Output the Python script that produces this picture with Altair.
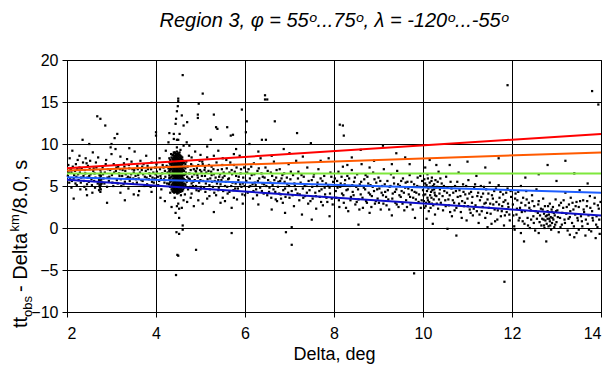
import altair as alt
import pandas as pd

# ---------------- data ----------------
pts_a = [(2.02,6.2),(2.05,5.4),(2.08,7.0),(2.1,6.6),(2.12,9.2),(2.15,5.9),(2.18,6.8),(2.2,7.6),(2.22,5.1),
         (2.25,6.4),(2.28,7.2),(2.3,4.6),(2.32,6.0),(2.35,10.5),(2.36,7.8),(2.38,5.6),(2.4,6.9),(2.42,8.3),
         (2.45,5.2),(2.47,7.4),(2.5,6.2),(2.52,8.0),(2.55,5.8),(2.57,4.2),(2.6,7.1),(2.62,6.5),(2.1,4.8),
         (2.28,8.6),(2.45,3.9),(2.58,9.0),(2.03,7.5),(2.15,3.5)]
pts_a2 = [(2.04,6.6),(2.07,5.8),(2.09,6.9),(2.11,5.6),(2.13,7.3),(2.16,6.3),(2.19,5.3),(2.21,6.1),(2.23,7.0),
          (2.26,5.7),(2.29,6.6),(2.31,5.4),(2.33,7.1),(2.37,6.2),(2.39,4.9),(2.41,6.5),(2.44,7.7),(2.46,6.0),
          (2.49,5.5),(2.51,7.0),(2.53,6.4),(2.56,5.1),(2.59,6.8),(2.61,5.6),(2.64,6.0),(2.66,7.2),(2.69,5.3),
          (2.06,8.3),(2.24,8.1),(2.43,4.6),(2.63,4.8)]
pts_streak = [(2.72,4.5),(2.74,4.8),(2.75,5.0),(2.76,5.2),(2.73,5.4),(2.75,5.6),(2.77,5.8),(2.74,6.0),
              (2.76,6.2),(2.75,6.4),(2.73,5.1),(2.77,5.5),(2.74,5.9),(2.76,6.6),(2.75,4.3),(2.78,5.3),
              (2.72,5.7),(2.75,6.9),(2.76,4.6),(2.73,6.3)]
pts_b = [(2.65,7.8),(2.68,13.3),(2.75,13.0),(2.86,12.2),(2.7,8.4),(2.8,7.2),(2.82,5.9),(2.85,6.6),(2.88,8.1),
         (2.9,4.9),(2.92,7.0),(2.95,6.1),(2.98,9.6),(3.0,10.0),(3.02,5.4),(3.05,7.6),(3.07,10.7),(3.09,9.4),
         (3.1,6.8),(3.12,5.7),(3.13,11.2),(3.15,7.3),(3.18,6.2),(3.2,8.5),(3.22,5.0),(3.25,6.9),(3.28,7.7),
         (3.3,5.5),(3.32,6.4),(3.35,8.2),(3.38,4.7),(3.4,7.1),(3.42,6.0),(3.45,7.9),(3.48,5.3),(3.5,6.6),
         (3.52,9.1),(3.55,5.8),(3.58,7.4),(3.6,6.3),(3.62,4.4),(3.65,8.0),(3.68,6.9),(3.7,5.6),(3.72,7.6),
         (3.75,6.1),(3.78,8.6),(3.8,5.2),(3.82,7.0),(3.85,6.5),(3.88,4.9),(3.9,7.8),(3.92,6.0),(3.95,5.4),
         (3.98,7.2),(4.0,11.4),(4.0,11.0),(4.02,6.7),(4.05,5.1),(4.08,8.3),(4.1,6.2),(4.12,4.6),(4.15,7.5),
         (4.18,5.8),(4.2,6.8),(4.22,9.2),(4.25,5.3),(4.28,10.2),(4.28,7.1),(4.3,11.3),(4.3,6.0),(4.32,4.2),
         (4.34,8.8),(4.35,2.5),(3.3,3.3),(2.9,3.0),(3.6,3.9),(3.0,8.8),(3.4,9.5),(2.5,10.0),(4.2,3.2)]
pts_b2 = [(2.81,6.4),(2.84,5.3),(2.87,7.6),(2.91,6.0),(2.94,5.6),(2.97,6.9),(3.01,6.3),(3.04,5.0),(3.06,6.6),
          (3.11,7.2),(3.14,5.3),(3.17,6.5),(3.19,7.0),(3.21,5.8),(3.24,6.2),(3.27,5.2),(3.29,7.3),(3.31,6.8),
          (3.34,5.9),(3.37,6.1),(3.39,7.5),(3.41,5.6),(3.44,6.4),(3.47,7.0),(3.49,5.9),(3.51,6.9),(3.54,6.2),
          (3.57,5.4),(3.59,7.0),(3.61,5.9),(3.64,6.6),(3.67,5.7),(3.69,7.3),(3.71,6.4),(3.74,5.0),(3.77,6.8),
          (3.79,6.0),(3.81,7.4),(3.84,5.8),(3.87,6.2),(3.89,7.0),(3.91,5.5),(3.94,6.6),(3.97,5.9),(3.99,6.4),
          (4.01,7.6),(4.04,6.1),(4.07,5.6),(4.09,7.0),(4.11,5.9),(4.14,6.5),(4.17,7.2),(4.19,5.4),(4.21,6.1),
          (4.24,7.4),(4.26,6.6),(4.29,5.2),(4.31,6.9),(4.33,5.7),(4.35,7.6),(3.2,4.2),(3.5,4.0),(3.9,4.3),
          (4.1,3.6)]
cluster_cols = {
    4.30: [5.3, 5.8, 6.3, 6.8, 7.3, 7.8, 8.3],
    4.32: [4.9, 5.5, 6.0, 6.6, 7.1, 7.6, 8.1],
    4.35: [4.6, 5.1, 5.6, 6.1, 6.5, 7.0, 7.4, 7.9, 8.4],
    4.37: [4.4, 4.8, 5.3, 5.8, 6.3, 6.8, 7.2, 7.7, 8.2, 8.7],
    4.39: [4.3, 4.6, 4.9, 5.1, 5.4, 5.7, 5.9, 6.2, 6.5, 6.7, 7.0, 7.3, 7.5, 7.8, 8.1, 8.4, 8.7],
    4.41: [4.2, 4.5, 4.7, 5.0, 5.3, 5.5, 5.8, 6.1, 6.3, 6.6, 6.9, 7.1, 7.4, 7.7, 7.9, 8.2, 8.5, 8.9],
    4.43: [4.4, 4.6, 4.9, 5.2, 5.4, 5.7, 6.0, 6.2, 6.5, 6.8, 7.0, 7.3, 7.6, 7.8, 8.1, 8.4, 8.6, 9.0],
    4.45: [4.3, 4.5, 4.8, 5.1, 5.3, 5.6, 5.9, 6.1, 6.4, 6.7, 6.9, 7.2, 7.5, 7.7, 8.0, 8.3, 8.5, 8.8],
    4.47: [4.2, 4.4, 4.7, 5.0, 5.2, 5.5, 5.8, 6.0, 6.3, 6.6, 6.8, 7.1, 7.4, 7.6, 7.9, 8.2, 8.4, 8.7, 9.1],
    4.49: [4.3, 4.6, 4.9, 5.1, 5.4, 5.7, 5.9, 6.2, 6.5, 6.7, 7.0, 7.3, 7.5, 7.8, 8.1, 8.3, 8.6, 8.9],
    4.51: [4.2, 4.5, 4.8, 5.0, 5.3, 5.6, 5.8, 6.1, 6.4, 6.6, 6.9, 7.2, 7.4, 7.7, 8.0, 8.2, 8.5, 8.8],
    4.53: [4.4, 4.7, 4.9, 5.2, 5.5, 5.7, 6.0, 6.3, 6.5, 6.8, 7.1, 7.3, 7.6, 7.9, 8.1, 8.4, 8.7, 9.0],
    4.55: [4.3, 4.6, 4.8, 5.1, 5.4, 5.6, 5.9, 6.2, 6.4, 6.7, 7.0, 7.2, 7.5, 7.8, 8.0, 8.3, 8.6],
    4.57: [4.5, 4.7, 5.0, 5.3, 5.5, 5.8, 6.1, 6.3, 6.6, 6.9, 7.1, 7.4, 7.7, 7.9, 8.2, 8.5],
    4.59: [4.4, 4.9, 5.2, 5.4, 5.7, 6.0, 6.2, 6.5, 6.8, 7.0, 7.3, 7.6, 7.8, 8.1, 8.4],
    4.61: [4.6, 5.1, 5.6, 5.9, 6.4, 6.9, 7.2, 7.7, 8.0],
    4.63: [4.8, 5.3, 5.8, 6.3, 6.8, 7.3, 7.8],
    4.66: [5.0, 5.7, 6.4, 7.1, 7.6],
}
pts_spread = [(4.45,-5.6),(4.5,-3.3),(4.48,-3.2),(4.6,-0.2),(4.52,-0.7),(4.9,-2.6),(4.46,-0.5),(4.6,0.3),
              (4.52,1.2),(4.44,1.8),(4.58,2.4),(4.5,2.9),(4.62,3.3),(4.42,3.6),(4.56,3.9),(4.48,4.1),
              (4.65,4.0),(4.4,9.0),(4.55,9.3),(4.47,9.6),(4.62,9.8),(4.5,10.5),(4.47,10.5),(4.4,10.6),
              (4.69,10.2),(4.53,11.2),(4.4,11.2),(4.62,12.2),(4.44,12.4),(4.7,12.6),(4.45,13.0),(4.58,13.4),
              (4.47,13.9),(4.49,14.5),(4.5,15.1),(4.5,15.4),(4.6,18.2),(4.52,2.3),(4.47,2.6)]
pts_c = [(4.66,5.2),(4.68,7.9),(4.7,6.1),(4.72,4.6),(4.74,8.6),(4.76,5.8),(4.78,6.9),(4.8,4.1),(4.82,7.4),
         (4.84,5.5),(4.86,6.4),(4.88,9.1),(4.9,5.0),(4.92,7.1),(4.94,6.0),(4.96,4.4),(4.98,8.0),(5.0,5.7),
         (5.02,6.7),(5.05,16.0),(4.96,14.8),(4.94,13.5),(4.94,13.1),(5.05,7.6),(5.08,4.8),(5.1,6.2),
         (5.12,5.3),(5.15,8.4),(5.18,6.8),(5.2,3.8),(5.22,5.9),(5.23,10.5),(5.25,7.3),(5.28,4.9),(5.3,13.5),
         (5.3,6.4),(5.32,5.6),(5.35,12.0),(5.38,11.8),(5.36,7.8),(5.4,4.5),(5.42,6.1),(5.45,5.2),(5.48,7.0),
         (5.5,3.6),(5.52,6.6),(5.55,5.0),(5.58,8.1),(5.6,12.0),(5.62,5.8),(5.65,4.3),(5.68,11.0),(5.7,6.9),
         (5.73,11.1),(5.72,5.4),(5.75,7.5),(5.78,4.7),(5.8,6.2),(5.82,3.4),(5.85,5.7),(5.88,8.6),(5.9,6.5),
         (5.93,14.1),(5.92,4.9),(5.95,5.3),(5.98,7.2),(6.0,3.9),(4.7,3.1),(4.85,2.6),(5.05,2.9),(5.3,1.9),
         (5.45,3.0),(5.7,2.4),(4.75,9.8),(5.15,9.7),(5.4,9.2),(5.8,9.4),(5.7,-0.6),(4.8,5.3),(4.9,6.7),
         (5.0,4.6),(5.1,7.2),(5.2,5.1),(5.25,6.3),(5.4,5.7),(5.5,6.0),(5.6,4.9),(5.65,6.6)]
pts_c2 = [(4.67,6.6),(4.69,5.5),(4.71,7.3),(4.73,5.9),(4.75,6.5),(4.77,4.9),(4.79,7.6),(4.81,6.1),(4.83,5.0),
          (4.85,7.0),(4.87,5.7),(4.89,6.8),(4.91,4.5),(4.93,6.3),(4.95,7.5),(4.97,5.4),(4.99,6.9),(5.01,4.9),
          (5.03,6.2),(5.04,7.9),(5.06,5.6),(5.09,6.9),(5.11,4.3),(5.13,6.6),(5.16,5.8),(5.19,7.5),(5.21,4.6),
          (5.24,6.7),(5.26,5.5),(5.29,7.0),(5.31,4.2),(5.34,6.0),(5.37,5.3),(5.39,6.9),(5.41,4.8),(5.44,6.4),
          (5.47,5.7),(5.49,7.5),(5.51,4.4),(5.54,6.2),(5.57,5.5),(5.59,7.1),(5.61,4.1),(5.64,5.9),(5.67,7.8),
          (5.69,5.0),(5.71,6.4),(5.74,4.5),(5.77,6.7),(5.79,5.3),(5.81,7.2),(5.84,4.7),(5.86,6.1),(5.89,5.2),
          (5.91,7.0),(5.94,4.0),(5.96,6.0),(5.99,5.0),(4.78,3.6),(4.95,3.3),(5.15,3.5),(5.35,3.9),(5.55,3.2),
          (5.75,3.6),(5.95,2.9),(4.8,8.4),(5.0,8.7),(5.3,8.6),(5.5,8.3),(5.75,8.8)]
pts_d = [(6.02,11.4),(6.04,12.7),(6.03,5.6),(6.06,4.2),(6.08,7.0),(6.1,10.0),(6.12,5.0),(6.15,6.3),(6.18,3.5),
         (6.2,7.7),(6.22,5.4),(6.25,4.6),(6.28,6.8),(6.3,2.8),(6.32,5.9),(6.35,8.3),(6.38,10.5),(6.38,4.4),
         (6.4,6.1),(6.45,15.8),(6.45,15.3),(6.5,15.3),(6.47,10.5),(6.43,5.2),(6.46,7.2),(6.5,3.9),(6.52,5.7),
         (6.55,4.8),(6.58,6.6),(6.6,2.2),(6.62,5.1),(6.65,7.9),(6.67,12.7),(6.68,4.3),(6.7,6.0),(6.72,3.2),
         (6.75,5.5),(6.78,7.0),(6.8,4.0),(6.82,5.9),(6.85,3.0),(6.87,9.4),(6.88,6.5),(6.9,4.7),(6.92,-0.5),
         (6.95,5.2),(6.98,7.6),(7.0,3.6),(7.02,5.8),(7.05,4.4),(7.05,0.1),(7.05,-2.0),(7.08,6.3),(7.1,2.6),
         (7.12,5.0),(7.15,8.0),(7.17,11.3),(7.18,4.1),(7.2,6.7),(7.22,3.3),(7.25,5.4),(7.28,1.6),(7.3,4.7),
         (7.32,6.1),(7.35,3.8),(7.38,5.2),(7.4,7.2),(7.42,2.9),(7.45,4.5),(7.48,10.1),(7.5,5.7),(7.52,3.5),
         (7.55,6.4),(7.58,4.2),(7.6,2.3),(7.62,5.0),(7.65,7.0),(7.68,3.7),(7.7,5.9),(7.72,4.6),(7.75,2.7),
         (7.78,6.2),(7.8,4.0),(7.82,5.3),(7.85,3.1),(7.88,8.3),(7.9,4.8),(7.92,6.6),(7.95,3.5),(7.98,5.5)]
pts_d2 = [(6.05,6.6),(6.09,4.9),(6.11,5.9),(6.14,7.3),(6.17,5.2),(6.19,4.4),(6.21,6.4),(6.24,5.1),(6.27,3.9),
          (6.29,5.6),(6.31,7.1),(6.34,4.8),(6.37,6.5),(6.39,5.3),(6.42,4.1),(6.44,6.0),(6.48,5.0),(6.51,6.8),
          (6.54,4.3),(6.57,5.4),(6.59,3.6),(6.61,6.2),(6.64,4.6),(6.66,5.7),(6.69,3.4),(6.71,6.9),(6.74,4.9),
          (6.77,4.1),(6.79,5.6),(6.81,3.5),(6.84,6.3),(6.86,4.5),(6.89,5.5),(6.91,3.7),(6.94,6.0),(6.97,4.2),
          (6.99,5.0),(7.03,6.7),(7.07,3.9),(7.11,5.3),(7.14,4.6),(7.19,5.9),(7.23,4.0),(7.27,6.3),(7.31,3.6),
          (7.34,5.0),(7.39,4.2),(7.43,5.6),(7.47,3.2),(7.51,4.9),(7.54,6.1),(7.59,3.8),(7.63,5.4),(7.67,4.4),
          (7.71,3.1),(7.74,5.6),(7.79,4.8),(7.83,3.6),(7.87,5.0),(7.91,4.1),(7.94,6.1),(7.97,2.8),(6.6,8.6),
          (7.0,8.9),(7.3,8.5),(7.7,8.0),(6.3,9.1),(7.5,1.0),(6.9,1.8),(7.9,1.4)]
pts_e = [(8.02,5.9),(8.05,3.6),(8.08,4.8),(8.1,6.7),(8.13,12.3),(8.2,12.2),(8.22,11.0),(8.12,2.5),(8.15,5.3),
         (8.18,4.1),(8.2,7.3),(8.22,3.0),(8.25,5.7),(8.28,4.5),(8.3,6.2),(8.32,2.0),(8.35,5.0),(8.38,3.7),
         (8.4,6.9),(8.42,4.3),(8.45,5.5),(8.48,2.8),(8.5,4.9),(8.52,6.4),(8.55,0.4),(8.55,3.4),(8.58,5.2),
         (8.6,4.0),(8.62,7.6),(8.65,2.4),(8.68,5.8),(8.7,4.6),(8.72,3.2),(8.75,6.1),(8.78,4.2),(8.8,1.8),
         (8.82,5.1),(8.85,3.8),(8.88,6.6),(8.9,4.4),(8.92,2.9),(8.95,5.4),(8.98,3.5),(9.0,6.0),(9.02,4.7),
         (9.05,2.2),(9.08,5.0),(9.1,3.9),(9.12,7.0),(9.15,4.3),(9.18,2.7),(9.2,5.6),(9.22,3.4),(9.25,4.9),
         (9.28,6.4),(9.3,1.5),(9.32,4.1),(9.35,5.3),(9.38,3.0),(9.4,4.6),(9.42,6.8),(9.45,2.5),(9.48,5.0),
         (9.5,3.7),(9.52,4.4),(9.55,5.9),(9.58,2.1),(9.6,4.8),(9.62,3.3),(9.65,5.5),(9.68,4.0),(9.7,6.3),
         (9.72,2.8),(9.75,4.5),(9.78,3.6),(9.8,5.2),(9.8,-5.4),(9.82,1.2),(9.85,4.2),(9.88,6.0),(9.9,3.1),
         (9.92,4.9),(9.95,2.4),(9.98,5.6),(8.4,8.4),(8.9,8.0),(9.4,8.9),(9.7,7.6),(8.6,9.3),(9.1,9.8)]
pts_e2 = [(8.04,4.4),(8.07,5.6),(8.11,3.3),(8.14,4.9),(8.17,6.1),(8.21,3.9),(8.24,5.2),(8.27,2.4),(8.31,4.6),
          (8.34,5.9),(8.37,3.3),(8.41,5.1),(8.44,3.9),(8.47,6.0),(8.51,3.1),(8.54,4.6),(8.57,2.2),(8.61,5.5),
          (8.64,3.6),(8.67,4.8),(8.71,6.3),(8.74,3.0),(8.77,5.3),(8.81,4.0),(8.84,2.5),(8.87,4.9),(8.91,5.8),
          (8.94,3.2),(8.97,4.6),(9.01,3.0),(9.04,5.6),(9.07,4.2),(9.11,2.9),(9.14,5.2),(9.17,3.7),(9.21,4.5),
          (9.24,2.2),(9.27,5.0),(9.31,3.5),(9.34,6.0),(9.37,4.3),(9.41,2.8),(9.44,5.2),(9.47,3.9),(9.51,5.6),
          (9.54,2.9),(9.57,4.2),(9.61,5.4),(9.64,2.5),(9.67,4.7),(9.71,3.7),(9.74,5.5),(9.77,2.2),(9.81,4.3),
          (9.84,3.4),(9.87,5.0),(9.91,4.0),(9.94,6.2),(9.97,3.3),(8.3,7.5),(8.8,7.2),(9.3,7.6),(9.6,8.4)]
pts_f = [(10.0,4.5),(10.02,3.2),(10.03,5.8),(10.05,4.0),(10.06,2.6),(10.08,5.1),(10.1,3.6),(10.1,6.4),
         (10.12,4.7),(10.13,2.0),(10.15,5.4),(10.16,3.9),(10.18,4.3),(10.2,6.0),(10.2,2.9),(10.22,5.0),
         (10.24,3.4),(10.25,4.6),(10.27,1.6),(10.28,5.7),(10.3,3.8),(10.32,4.9),(10.34,2.3),(10.35,6.7),
         (10.37,4.1),(10.4,3.0),(10.05,7.2),(10.15,8.1),(10.3,7.5),(10.08,1.1),(10.22,0.5),(10.04,4.9),
         (10.11,3.3),(10.19,5.6),(10.26,4.2)]
pts_f2 = [(10.01,3.9),(10.03,2.4),(10.05,5.3),(10.07,3.0),(10.09,4.4),(10.11,5.9),(10.14,3.1),(10.16,4.9),
          (10.17,2.4),(10.19,3.6),(10.21,4.5),(10.23,2.7),(10.25,5.2),(10.27,3.9),(10.29,4.8),(10.31,2.9),
          (10.33,5.5),(10.36,3.4),(10.38,4.6),(10.39,5.9)]
pts_g = [(10.42,5.3),(10.45,2.1),(10.48,4.4),(10.5,3.3),(10.52,6.1),(10.55,-0.1),(10.55,4.8),(10.58,2.7),
         (10.6,3.9),(10.62,5.5),(10.65,1.4),(10.68,4.2),(10.7,3.0),(10.72,5.0),(10.75,-0.9),(10.75,2.4),
         (10.78,3.7),(10.8,6.6),(10.82,4.5),(10.85,1.9),(10.88,3.2),(10.9,5.2),(10.92,2.6),(10.95,4.0),
         (10.98,0.9),(11.0,3.5),(11.02,5.7),(11.05,2.2),(11.08,4.3),(11.1,3.0),(11.12,1.5),(11.15,4.8),
         (11.18,2.7),(11.2,6.2),(11.22,3.8),(11.25,0.6),(11.28,3.3),(11.3,5.0),(11.32,2.0),(11.35,4.1),
         (11.38,2.9),(11.4,1.2),(11.42,4.6),(11.45,0.1),(11.45,3.4),(11.48,2.4),(11.5,5.4),(11.52,1.7),
         (11.55,3.9),(11.58,2.8),(11.6,4.4),(11.62,0.8),(11.65,3.1),(11.68,2.1),(11.7,5.1),(11.72,3.6),
         (11.75,1.4),(11.78,2.6),(11.8,4.0),(11.83,-6.4),(11.82,0.3),(11.85,3.3),(11.88,1.9),(11.9,4.7),
         (11.92,2.5),(11.95,0.9),(11.98,3.7),(11.9,17.0),(10.6,7.5),(11.0,7.9),(11.4,7.2),(11.7,8.3)]
pts_g2 = [(10.44,3.8),(10.47,5.0),(10.51,2.6),(10.54,4.2),(10.57,3.4),(10.61,1.9),(10.64,4.7),(10.67,3.3),
          (10.71,2.1),(10.74,4.4),(10.77,5.5),(10.81,2.9),(10.84,3.8),(10.87,1.2),(10.91,4.3),(10.94,3.0),
          (10.97,5.0),(11.01,2.6),(11.04,4.1),(11.07,1.8),(11.11,3.7),(11.14,2.3),(11.17,5.2),(11.21,2.0),
          (11.24,4.2),(11.27,1.6),(11.31,3.7),(11.34,2.5),(11.37,4.9),(11.41,3.0),(11.44,1.8),(11.47,4.1),
          (11.51,2.9),(11.54,0.5),(11.57,3.5),(11.61,2.2),(11.64,4.7),(11.67,1.0),(11.71,2.8),(11.74,4.3),
          (11.77,2.0),(11.81,3.1),(11.84,1.5),(11.87,4.2),(11.91,2.9),(11.94,1.6),(11.97,4.4)]
pts_h = [(12.02,2.8),(12.05,0.2),(12.06,-0.2),(12.08,4.1),(12.1,1.6),(12.12,3.3),(12.15,0.9),(12.18,2.4),
         (12.2,-0.6),(12.2,5.0),(12.22,1.9),(12.25,3.6),(12.27,-1.6),(12.28,0.5),(12.3,2.7),(12.32,4.4),
         (12.35,1.2),(12.38,3.0),(12.4,0.0),(12.42,2.1),(12.45,3.9),(12.48,1.4),(12.5,2.6),(12.52,-0.3),
         (12.55,4.6),(12.58,1.8),(12.6,-0.6),(12.6,3.2),(12.62,0.7),(12.65,2.3),(12.68,1.1),(12.7,3.5),
         (12.72,0.3),(12.72,1.7),(12.74,2.6),(12.75,0.9),(12.76,1.4),(12.77,-1.6),(12.78,0.5),(12.8,2.0),
         (12.8,1.1),(12.82,0.2),(12.83,1.6),(12.85,2.9),(12.85,0.8),(12.87,1.3),(12.88,-0.2),(12.9,1.9),
         (12.9,0.6),(12.92,2.5),(12.93,1.0),(12.95,0.1),(12.96,1.5),(12.98,3.4),(13.0,0.7),(13.02,2.1),
         (13.05,-0.5),(13.08,1.2),(13.1,3.0),(13.12,0.4),(13.15,2.4),(13.18,1.0),(13.2,4.2),(13.22,1.7),
         (13.25,-0.3),(13.28,2.8),(13.3,-0.8),(13.3,1.3),(13.32,3.6),(13.35,0.6),(13.38,2.2),(13.4,-1.1),
         (13.42,1.6),(13.45,-0.6),(13.45,3.1),(13.48,0.9),(13.5,-0.2),(13.5,2.5),(13.52,4.5),(13.55,1.4),
         (13.58,0.2),(13.6,3.3),(13.62,1.9),(13.65,-0.9),(13.68,2.6),(13.7,0.5),(13.72,1.5),(13.75,3.8),
         (13.78,-0.4),(13.8,2.0),(13.82,0.9),(13.85,2.9),(13.88,-1.2),(13.9,1.4),(13.92,0.1),(13.95,2.3),
         (13.97,-0.7),(13.94,14.7),(13.8,16.3),(12.3,6.0),(12.6,6.4),(13.0,5.6),(13.4,6.5),(13.7,5.3),
         (12.8,7.5),(13.2,8.0)]
pts_h2 = [(12.03,1.5),(12.07,3.5),(12.11,2.3),(12.14,4.3),(12.17,1.2),(12.21,3.0),(12.24,0.8),(12.29,2.0),
          (12.33,3.4),(12.36,0.3),(12.39,2.4),(12.43,1.0),(12.46,3.2),(12.49,0.6),(12.53,2.0),(12.56,1.1),
          (12.59,2.8),(12.63,1.5),(12.66,0.3),(12.69,2.2),(12.71,1.0),(12.73,0.0),(12.79,1.5),(12.81,2.6),
          (12.84,1.1),(12.86,0.3),(12.89,2.2),(12.91,1.2),(12.94,1.8),(12.97,0.4),(12.99,2.0),(13.03,1.3),
          (13.06,2.7),(13.09,0.1),(13.13,1.8),(13.16,3.3),(13.19,0.6),(13.23,2.5),(13.27,1.1),(13.31,2.0),
          (13.36,3.0),(13.39,0.2),(13.43,2.6),(13.47,1.2),(13.53,3.2),(13.57,0.8),(13.61,2.2),(13.66,1.0),
          (13.69,3.2),(13.73,-0.2),(13.76,2.4),(13.81,1.2),(13.86,3.6),(13.89,0.4),(13.93,2.7),(13.96,1.0),
          (13.99,3.1)]

line_names = ["red", "orange", "green", "lightblue", "blue"]
line_x_start = [2.0, 2.0, 2.0, 2.0, 2.0]
line_x_end = [14.0, 14.0, 14.0, 14.0, 14.0]
line_y_start = [7.1, 6.85, 6.5, 6.05, 5.75]
line_y_end = [11.2, 9.0, 6.5, 4.2, 1.5]
line_colors = ["#ff0000", "#ff5a00", "#7ee83c", "#1e5eff", "#1010c8"]

x_ticks = [2, 4, 6, 8, 10, 12, 14]
y_ticks = [-10, -5, 0, 5, 10, 15, 20]

title_text = "Region 3, \u03c6 = 55\u1d52...75\u1d52, \u03bb  = -120\u1d52...-55\u1d52"
# y-axis title pieces: (text, font size, baseline shift in px, advance width in px)
ytitle_pieces = [("tt", 20, 0, 11.1), ("obs", 13, 5, 25.0), ("- Delta", 20, 0, 60.5),
                 ("km", 13, -8, 17.3), ("/8.0, s", 20, 0, 54.5)]

# ---------------- build ----------------
rows = []
for grp in (pts_a, pts_a2, pts_streak, pts_b, pts_b2, pts_spread, pts_c, pts_c2, pts_d, pts_d2,
            pts_e, pts_e2, pts_f, pts_f2, pts_g, pts_g2, pts_h, pts_h2):
    rows.extend(grp)
for cx, ys in cluster_cols.items():
    rows.extend((cx, yy) for yy in ys)
df_pts = pd.DataFrame(rows, columns=["x", "y"])

lrows = []
for n, xs, xe, ys, ye in zip(line_names, line_x_start, line_x_end, line_y_start, line_y_end):
    lrows.append({"name": n, "x": xs, "y": ys})
    lrows.append({"name": n, "x": xe, "y": ye})
df_lines = pd.DataFrame(lrows)

FONT = "Liberation Sans"
W, H = 534, 252

xscale = alt.Scale(domain=[2, 14], nice=False, zero=False)
yscale = alt.Scale(domain=[-10, 20], nice=False, zero=False)

xaxis = alt.Axis(values=x_ticks, title="Delta, deg", grid=True, labelPadding=8, titlePadding=4)
yaxis = alt.Axis(values=y_ticks, title=None, grid=True, labelPadding=4)

points = alt.Chart(df_pts).mark_square(size=5, color="black", opacity=1).encode(
    x=alt.X("x:Q", scale=xscale, axis=xaxis),
    y=alt.Y("y:Q", scale=yscale, axis=yaxis),
)

lines = alt.Chart(df_lines).mark_line(strokeWidth=2).encode(
    x=alt.X("x:Q", scale=xscale),
    y=alt.Y("y:Q", scale=yscale),
    color=alt.Color("name:N", scale=alt.Scale(domain=line_names, range=line_colors), legend=None),
    detail="name:N",
)

layers = [points, lines]
pos = 268.0
for txt, fs, shift, adv in ytitle_pieces:
    layers.append(
        alt.Chart(pd.DataFrame({"t": [txt]})).mark_text(
            angle=270, align="left", baseline="alphabetic", font=FONT, fontSize=fs, color="black"
        ).encode(text="t:N", x=alt.value(-40 + shift), y=alt.value(pos))
    )
    pos -= adv

chart = alt.layer(*layers).properties(
    width=W, height=H,
    title=alt.TitleParams(title_text, font=FONT, fontSize=20, fontStyle="italic", fontWeight="normal",
                          color="black", offset=21),
    autosize=alt.AutoSizeParams(type="none"),
    padding={"left": 59, "top": 52, "right": 4, "bottom": 54},
).configure_view(stroke="black", strokeWidth=1).configure_axis(
    labelFont=FONT, labelFontSize=16, labelColor="black",
    titleFont=FONT, titleFontSize=18, titleFontWeight="normal", titleColor="black",
    gridColor="black", gridOpacity=1, gridWidth=1,
    domainColor="black", domainWidth=1, tickColor="black", tickSize=5, tickWidth=1,
)

chart.save("out.html", embed_options={"renderer": "svg", "actions": False})
